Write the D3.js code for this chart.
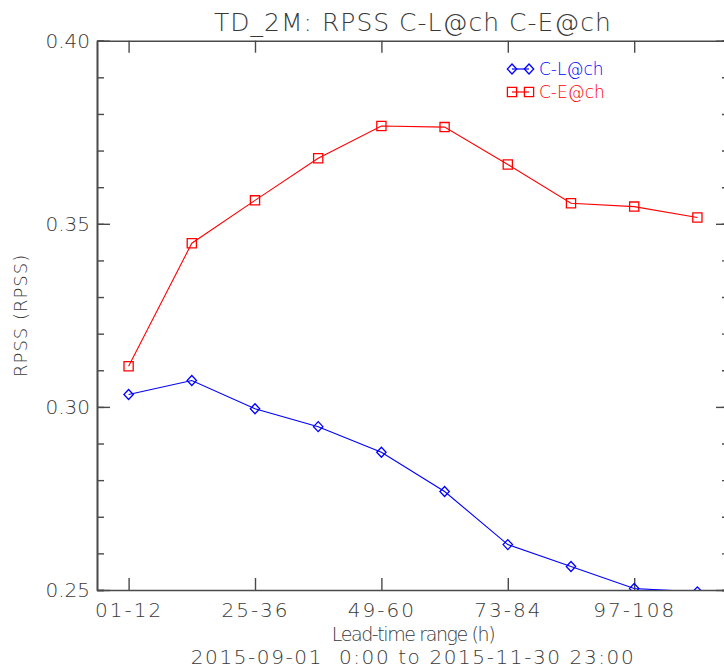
<!DOCTYPE html>
<html lang="en">
<head>
  <meta charset="utf-8">
  <title>TD_2M: RPSS C-L@ch C-E@ch</title>
  <script src="https://d3js.org/d3.v7.min.js"></script>
  <style>
    body { margin: 0; background: #fff; }
    svg text { font-family: "DejaVu Sans", sans-serif; font-weight: 200; fill: #383838; }
  </style>
</head>
<body>
  <svg class="chart" width="724" height="669"></svg>
  <script>
    var width = 724, height = 669;
    var margin = { top: 40.7, right: -5, bottom: 79, left: 97 };

    // lead-time ranges (h)
    var categories = ["01-12", "13-24", "25-36", "37-48", "49-60",
                      "61-72", "73-84", "85-96", "97-108", "109-120"];
    var xLabelIdx = [0, 2, 4, 6, 8];

    // RPSS values
    var clValues = [0.3034, 0.3072, 0.2995, 0.2946, 0.2876,
                    0.2769, 0.2624, 0.2564, 0.2504, 0.2495];
    var ceValues = [0.3111, 0.3447, 0.3564, 0.3679, 0.3767,
                    0.3764, 0.3662, 0.3556, 0.3547, 0.3517];

    var yMajor = [0.25, 0.30, 0.35, 0.40];
    var yMinor = d3.range(25, 41).map(function(d) { return d / 100; });

    var series = [
      { name: "C-L@ch", values: clValues, color: "#0000ff", sym: "diamond" },
      { name: "C-E@ch", values: ceValues, color: "#ff0000", sym: "square" }
    ];

    var x = d3.scaleLinear()
              .domain([-0.5, categories.length - 0.5])
              .range([margin.left, width - margin.right]);

    var y = d3.scaleLinear()
              .domain([0.25, 0.40])
              .range([height - margin.bottom, margin.top]);

    var svg = d3.select("svg.chart");
    var axisColor = "#4a4a4a";

    function styleAxis(g) {
      g.selectAll("path.domain").attr("stroke", axisColor).attr("stroke-width", 1.6);
      g.selectAll(".tick line").attr("stroke", axisColor).attr("stroke-width", 1.4);
    }

    // minor y ticks (left + right)
    svg.append("g")
       .attr("transform", "translate(" + x.range()[0] + ",0)")
       .call(d3.axisLeft(y).tickValues(yMinor).tickSize(-7).tickFormat(""))
       .call(styleAxis);
    svg.append("g")
       .attr("transform", "translate(" + x.range()[1] + ",0)")
       .call(d3.axisRight(y).tickValues(yMinor).tickSize(-7).tickFormat(""))
       .call(styleAxis);

    // major y ticks
    var yLeft = svg.append("g")
       .attr("transform", "translate(" + x.range()[0] + ",0)")
       .call(d3.axisLeft(y).tickValues(yMajor).tickSizeInner(-13).tickSizeOuter(0)
               .tickPadding(7).tickFormat(d3.format(".2f")))
       .call(styleAxis);
    yLeft.selectAll("text").attr("font-size", 20).style("fill", "#383838")
         .style("font-family", "DejaVu Sans").style("font-weight", 200);
    svg.append("g")
       .attr("transform", "translate(" + x.range()[1] + ",0)")
       .call(d3.axisRight(y).tickValues(yMajor).tickSizeInner(-13).tickSizeOuter(0).tickFormat(""))
       .call(styleAxis);

    // x axes
    var xBottom = svg.append("g")
       .attr("transform", "translate(0," + y.range()[0] + ")")
       .call(d3.axisBottom(x).tickValues(xLabelIdx).tickSizeInner(-12).tickSizeOuter(0)
               .tickPadding(13).tickFormat(function(i) { return categories[i]; }))
       .call(styleAxis);
    xBottom.selectAll("text").attr("font-size", 20).style("letter-spacing", "2px")
           .style("fill", "#383838").style("font-family", "DejaVu Sans").style("font-weight", 200);
    svg.append("g")
       .attr("transform", "translate(0," + y.range()[1] + ")")
       .call(d3.axisTop(x).tickValues(xLabelIdx).tickSizeInner(-12).tickSizeOuter(0).tickFormat(""))
       .call(styleAxis);

    // data, clipped to plot area
    svg.append("clipPath").attr("id", "plotclip")
       .append("rect")
       .attr("x", x.range()[0]).attr("y", y.range()[1])
       .attr("width", x.range()[1] - x.range()[0])
       .attr("height", y.range()[0] - y.range()[1]);

    var line = d3.line()
                 .x(function(d, i) { return x(i); })
                 .y(function(d) { return y(d); });

    function symPath(type) {
      if (type == "square") return "M-4.6,-4.6H4.6V4.6H-4.6Z";
      return "M0,-5L4.7,0L0,5L-4.7,0Z";
    }

    var plot = svg.append("g").attr("clip-path", "url(#plotclip)");
    series.forEach(function(s) {
      plot.append("path")
          .datum(s.values)
          .attr("d", line)
          .attr("fill", "none")
          .attr("stroke", s.color)
          .attr("stroke-width", 1.1);
      plot.selectAll(null)
          .data(s.values)
          .enter().append("path")
          .attr("transform", function(d, i) { return "translate(" + x(i) + "," + y(d) + ")"; })
          .attr("d", symPath(s.sym))
          .attr("fill", "none")
          .attr("stroke", s.color)
          .attr("stroke-width", 1.3);
    });

    // legend
    var legend = svg.append("g");
    series.forEach(function(s, k) {
      var ly = 69 + k * 23;
      legend.append("line")
            .attr("x1", 512).attr("x2", 529).attr("y1", ly).attr("y2", ly)
            .attr("stroke", s.color).attr("stroke-width", 1.2);
      [512, 529].forEach(function(lx) {
        legend.append("path")
              .attr("transform", "translate(" + lx + "," + ly + ")")
              .attr("d", symPath(s.sym))
              .attr("fill", "none").attr("stroke", s.color).attr("stroke-width", 1.3);
      });
      legend.append("text")
            .attr("x", 539).attr("y", ly).attr("dy", "0.36em")
            .attr("font-size", 17)
            .style("fill", s.color)
            .text(s.name);
    });

    // titles
    svg.append("text")
       .attr("x", 413).attr("y", 31)
       .attr("text-anchor", "middle")
       .attr("font-size", 25)
       .style("letter-spacing", "1px")
       .text("TD_2M: RPSS C-L@ch C-E@ch");

    svg.append("text")
       .attr("transform", "translate(27," + ((y.range()[0] + y.range()[1]) / 2) + ") rotate(-90)")
       .attr("text-anchor", "middle")
       .attr("font-size", 18)
       .style("letter-spacing", "1px")
       .text("RPSS (RPSS)");

    svg.append("text")
       .attr("x", 413).attr("y", 641)
       .attr("text-anchor", "middle")
       .attr("font-size", 19)
       .style("letter-spacing", "-1.4px")
       .text("Lead-time range (h)");

    svg.append("text")
       .attr("x", 413).attr("y", 664)
       .attr("text-anchor", "middle")
       .attr("font-size", 20)
       .style("white-space", "pre")
       .style("letter-spacing", "1.6px")
       .text("2015-09-01  0:00 to 2015-11-30 23:00");
  </script>
</body>
</html>
